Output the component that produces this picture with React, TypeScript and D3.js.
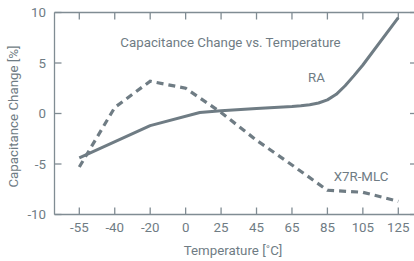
import React from 'react';
import * as d3 from 'd3';

// tick categories on the temperature axis (evenly spaced, not linear in °C)
const tempTicks = [-55, -40, -20, 0, 25, 45, 65, 85, 105, 125];
const yTicks = [-10, -5, 0, 5, 10];

// RA series (solid)
const raTemp = [-55, -20, 10, 25, 45, 65, 70, 75, 80, 85, 90, 95, 100, 105, 125];
const raValue = [-4.4, -1.2, 0.1, 0.28, 0.5, 0.7, 0.77, 0.87, 1.04, 1.35, 1.9, 2.75, 3.75, 4.8, 9.5];

// X7R-MLC series (dashed)
const x7rTemp = [-55, -40, -20, 0, 25, 45, 65, 85, 105, 125];
const x7rValue = [-5.3, 0.6, 3.2, 2.5, 0.1, -2.65, -5.1, -7.6, -7.8, -8.7];

const W = 414;
const H = 261;
const color = '#6f7c84';
const axisColor = '#808c93';
const font = 'Roboto, sans-serif';
const fs = 13.3;

export default function App() {
  const m = { left: 54.5, right: 417, top: 12.5, bottom: 214.5 };

  const xPoint = d3.scalePoint<number>().domain(tempTicks).range([79.3, 398.3]);
  // piecewise scale so that in-between temperatures land between categories
  const x = d3.scaleLinear().domain(tempTicks).range(tempTicks.map(t => xPoint(t) as number));
  const y = d3.scaleLinear().domain([-10, 10]).range([m.bottom, m.top]);

  const line = d3.line<[number, number]>().x(d => x(d[0])).y(d => y(d[1]));
  const raPath = line(raTemp.map((t, i) => [t, raValue[i]] as [number, number])) || '';
  const x7rPath = line(x7rTemp.map((t, i) => [t, x7rValue[i]] as [number, number])) || '';

  const tick = 7;

  return (
    <svg width={W} height={H} style={{ position: 'absolute', left: 0, top: 0, background: '#fff' }}>
      {/* frame */}
      <g stroke={axisColor} strokeWidth={1.3} fill="none">
        <line x1={m.left} x2={m.right} y1={m.top} y2={m.top} />
        <line x1={m.left} x2={m.right} y1={m.bottom} y2={m.bottom} />
        <line x1={m.left} x2={m.left} y1={m.top} y2={m.bottom} />
        <line x1={m.right} x2={m.right} y1={m.top} y2={m.bottom} />
        {tempTicks.map(t => (
          <g key={t}>
            <line x1={x(t)} x2={x(t)} y1={m.bottom} y2={m.bottom - tick} />
            <line x1={x(t)} x2={x(t)} y1={m.top} y2={m.top + tick} />
          </g>
        ))}
        {yTicks.map(v => (
          <g key={v}>
            <line x1={m.left} x2={m.left + tick} y1={y(v)} y2={y(v)} />
            <line x1={m.right} x2={m.right - tick} y1={y(v)} y2={y(v)} />
          </g>
        ))}
      </g>

      {/* tick labels */}
      <g fill={color} fontFamily={font} fontSize={fs}>
        {tempTicks.map(t => (
          <text key={t} x={x(t)} y={231.5} textAnchor="middle">{t}</text>
        ))}
        {yTicks.map(v => (
          <text key={v} x={46} y={y(v) + 4.7} textAnchor="end">{v}</text>
        ))}
      </g>

      {/* axis titles */}
      <text x={233} y={255} textAnchor="middle" fill={color} fontFamily={font} fontSize={fs}>
        Temperature [˚C]
      </text>
      <text
        transform={`translate(17.5,116.5) rotate(-90)`}
        textAnchor="middle"
        fill={color}
        fontFamily={font}
        fontSize={fs}
      >
        Capacitance Change [%]
      </text>

      {/* series */}
      <path d={raPath} fill="none" stroke={color} strokeWidth={3} strokeLinejoin="round" />
      <path d={x7rPath} fill="none" stroke={color} strokeWidth={3.2} strokeDasharray="7,5" />

      {/* annotations */}
      <g fill={color} fontFamily={font} fontSize={fs}>
        <text x={230.5} y={47} textAnchor="middle">Capacitance Change vs. Temperature</text>
        <text x={316.5} y={82} textAnchor="middle">RA</text>
        <text x={361} y={181} textAnchor="middle">X7R-MLC</text>
      </g>
    </svg>
  );
}
